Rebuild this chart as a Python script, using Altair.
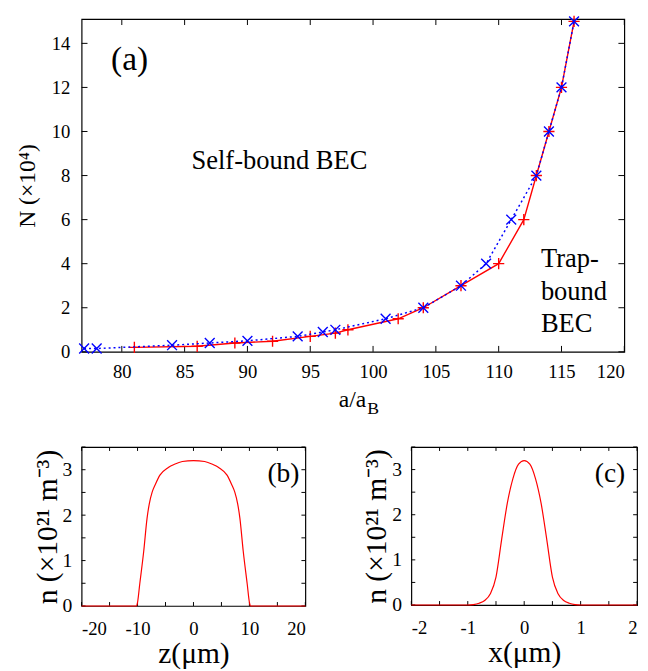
import altair as alt
import pandas as pd

FONT = "Liberation Serif"

# ---------------- panel (a) data ----------------
blue_a = [77, 78, 84, 87, 90, 94, 96, 97, 101, 104, 107, 109, 111, 113, 114, 115, 116]
blue_N = [0.15, 0.15, 0.3, 0.4, 0.5, 0.7, 0.9, 1.0, 1.5, 2.0, 3.0, 4.0, 6.0, 8.0, 10.0, 12.0, 15.0]
red_a = [81, 86, 89, 92, 95, 97, 98, 102, 104, 107, 110, 112, 113, 114, 115, 116]
red_N = [0.2, 0.25, 0.4, 0.48, 0.7, 0.85, 1.0, 1.5, 2.0, 3.0, 4.0, 6.0, 8.0, 10.0, 12.0, 15.0]
xticks_a = [80, 85, 90, 95, 100, 105, 110, 115, 120]
yticks_a = [0, 2, 4, 6, 8, 10, 12, 14]

# ---------------- panel (b) data ----------------
z_um = [-20, -10.2, -10.0, -9.6, -8.9, -8.3, -7.9, -7.4, -6.8, -6.0, -4.5, -3.4, -2.0, 0.0,
        2.0, 3.4, 4.5, 6.0, 6.8, 7.4, 7.9, 8.3, 8.9, 9.6, 10.0, 10.2, 20]
n_z = [0.0, 0.0, 0.08, 0.49, 1.2, 1.93, 2.25, 2.5, 2.68, 2.88, 3.05, 3.12, 3.18, 3.2,
       3.18, 3.12, 3.05, 2.88, 2.68, 2.5, 2.25, 1.93, 1.2, 0.49, 0.08, 0.0, 0.0]
xticks_b = [-20, -15, -10, -5, 0, 5, 10, 15, 20]
xlabels_b = [-20, -10, 0, 10, 20]

# ---------------- panel (c) data ----------------
x_um = [-2.0, -1.0, -0.9, -0.8, -0.7, -0.6, -0.5, -0.4, -0.3, -0.2, -0.1, 0.0,
        0.1, 0.2, 0.3, 0.4, 0.5, 0.6, 0.7, 0.8, 0.9, 1.0, 2.0]
n_x = [0.0, 0.0, 0.01, 0.04, 0.1, 0.25, 0.62, 1.45, 2.25, 2.8, 3.12, 3.2,
       3.12, 2.8, 2.25, 1.45, 0.62, 0.25, 0.1, 0.04, 0.01, 0.0, 0.0]
xticks_c = [-2, -1.5, -1, -0.5, 0, 0.5, 1, 1.5, 2]
xlabels_c = [-2, -1, 0, 1, 2]

yticks_bc = [0, 0.5, 1, 1.5, 2, 2.5, 3, 3.5]
ylabels_bc = [0, 1, 2, 3]

# ---------------- text ----------------
label_a = "(a)"
label_b = "(b)"
label_c = "(c)"
self_bound = "Self-bound BEC"
trap_bound = ["Trap-", "bound", "BEC"]
ytitle_a = "N (×10⁴)"
xtitle_a_main = "a/a"
xtitle_a_sub = "B"
ytitle_bc = "n (×10²¹ m⁻³)"
xtitle_b = "z(μm)"
xtitle_c = "x(μm)"

PLUS = "M-1,0L1,0M0,-1L0,1"
CROSS = "M-1,-1L1,1M-1,1L1,-1"


def ticks_layers(xvals, yvals, X, Y, w, h, L):
    xdf = pd.DataFrame({"x": xvals})
    ydf = pd.DataFrame({"y": yvals})
    bx = alt.Chart(xdf).mark_rule(color="black", strokeWidth=1)
    by = alt.Chart(ydf).mark_rule(color="black", strokeWidth=1)
    return [
        bx.encode(x=X, y=alt.value(h), y2=alt.value(h - L)),
        bx.encode(x=X, y=alt.value(0), y2=alt.value(L)),
        by.encode(y=Y, x=alt.value(0), x2=alt.value(L)),
        by.encode(y=Y, x=alt.value(w - L), x2=alt.value(w)),
    ]


def txt(s, x, y, size, align="left", **kw):
    return alt.Chart(pd.DataFrame({"t": [s]})).mark_text(
        font=FONT, fontSize=size, align=align, baseline="alphabetic", color="black", **kw
    ).encode(x=alt.value(x), y=alt.value(y), text="t:N")


# ---------------- panel (a) ----------------
WA, HA = 553, 339
XA = alt.X("x:Q", scale=alt.Scale(domain=[76.8, 120], nice=False, zero=False),
           axis=alt.Axis(values=xticks_a, title=None, ticks=False, domain=False, grid=False,
                         labelFontSize=19, labelPadding=11, labelFont=FONT, labelColor="black",
                         labelExpr="'' + datum.value"))
YA = alt.Y("y:Q", scale=alt.Scale(domain=[0, 15.1], nice=False),
           axis=alt.Axis(values=yticks_a, title=ytitle_a, ticks=False, domain=False, grid=False,
                         labelFontSize=19, labelPadding=12, labelFont=FONT, labelColor="black",
                         titleFont=FONT, titleFontSize=24, titleFontWeight="normal",
                         titleColor="black", titlePadding=12,
                         labelExpr="'' + datum.value"))

df_red = pd.DataFrame({"x": red_a, "y": red_N})
df_blue = pd.DataFrame({"x": blue_a, "y": blue_N})

red_line = alt.Chart(df_red).mark_line(color="#ff0000", strokeWidth=1.4).encode(x=XA, y=YA)
red_pts = alt.Chart(df_red).mark_point(shape=PLUS, size=130, color="#ff0000", filled=False,
                                       strokeWidth=1.4, opacity=1).encode(x=XA, y=YA)
blue_line = alt.Chart(df_blue).mark_line(color="#0000ff", strokeWidth=1.5,
                                         strokeDash=[2, 3]).encode(x=XA, y=YA)
blue_pts = alt.Chart(df_blue).mark_point(shape=CROSS, size=100, color="#0000ff", filled=False,
                                         strokeWidth=1.4, opacity=1).encode(x=XA, y=YA)

panel_a = alt.layer(
    *ticks_layers(xticks_a, yticks_a, XA, YA, WA, HA, 6),
    red_line, red_pts, blue_line, blue_pts,
    txt(label_a, 30, 52, 34),
    txt(self_bound, 112, 153, 27),
    alt.Chart(pd.DataFrame({"d": [0]})).mark_text(
        text=trap_bound, font=FONT, fontSize=27, align="left", baseline="alphabetic",
        lineHeight=33, color="black").encode(x=alt.value(468), y=alt.value(253)),
    txt(xtitle_a_main, 290, 395, 24, align="right"),
    txt(xtitle_a_sub, 291, 402, 18),
).properties(width=WA, height=HA)


# ---------------- panels (b), (c) ----------------
def density_panel(xs, ns, dom, xt, xl, xtitle, label, w, h, lab_x):
    X = alt.X("x:Q", scale=alt.Scale(domain=dom, nice=False, zero=False),
              axis=alt.Axis(values=xl, title=xtitle, ticks=False, domain=False, grid=False,
                            labelFontSize=19, labelPadding=14, labelFont=FONT, labelColor="black",
                            titleFont=FONT, titleFontSize=30, titleFontWeight="normal",
                            titleColor="black", titlePadding=1,
                            labelExpr="'' + datum.value"))
    Y = alt.Y("y:Q", scale=alt.Scale(domain=[0, 3.5], nice=False),
              axis=alt.Axis(values=ylabels_bc, title=ytitle_bc, ticks=False, domain=False,
                            grid=False, labelFontSize=20, labelPadding=10, labelFont=FONT,
                            labelColor="black", titleFont=FONT, titleFontSize=30,
                            titleFontWeight="normal", titleColor="black", titlePadding=0,
                            labelExpr="'' + datum.value"))
    df = pd.DataFrame({"x": xs, "y": ns})
    line = alt.Chart(df).mark_line(color="#ff0000", strokeWidth=1.2,
                                   interpolate="monotone").encode(x=X, y=Y)
    return alt.layer(
        *ticks_layers(xt, yticks_bc, X, Y, w, h, 4),
        line,
        txt(label, lab_x, 36, 28, align="right"),
    ).properties(width=w, height=h)


panel_b = density_panel(z_um, n_z, [-20, 20], xticks_b, xlabels_b, xtitle_b, label_b, 228, 162, 222)
panel_c = density_panel(x_um, n_x, [-2, 2], xticks_c, xlabels_c, xtitle_c, label_c, 230, 161, 218)

bottom = alt.hconcat(panel_b, panel_c, spacing=54)

chart = alt.vconcat(panel_a, bottom, spacing=27).properties(
    padding={"left": 7, "top": -2, "right": 0, "bottom": 0}
).configure(background="white", font=FONT).configure_view(
    stroke="black", strokeWidth=1.2
).configure_axis(labelFont=FONT, titleFont=FONT).configure_text(font=FONT)

chart.save("out.html", embed_options={"renderer": "svg", "actions": False})
